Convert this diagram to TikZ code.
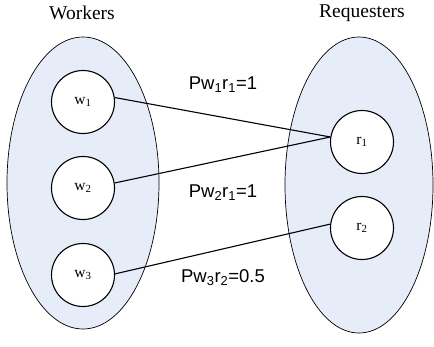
\documentclass[tikz,border=0pt]{standalone}
\usepackage{fontspec}
\setmainfont{Liberation Serif}
\newfontfamily\arialf{Liberation Sans}
\usetikzlibrary{shapes.geometric}
\definecolor{setfill}{RGB}{230,237,248}
\tikzset{
  setell/.style={ellipse, draw=black, fill=setfill, line width=0.7pt, inner sep=0pt},
  agent/.style={circle, draw=black, fill=white, line width=1.1pt, minimum size=63pt, inner sep=0pt, font=\fontsize{15.5}{18}\selectfont},
  title/.style={font=\fontsize{19.5}{22}\selectfont},
  prob/.style={font=\arialf\fontsize{18.5}{21}\selectfont},
  link/.style={line width=1.1pt}
}
\begin{document}
\begin{tikzpicture}[x=1pt,y=-1pt]
\useasboundingbox (0,0) rectangle (434,346);
\node[setell, minimum width=152pt, minimum height=292pt] (W) at (83,183) {};
\node[setell, minimum width=148pt, minimum height=296pt] (R) at (359,185) {};
\node[title] (tw) at (82,13) {Workers};
\node[title] (tr) at (362,13) {Requesters};
\node[agent] (w1) at (83,102) {w\textsubscript{1}};
\node[agent] (w2) at (83,188) {w\textsubscript{2}};
\node[agent] (w3) at (83,275) {w\textsubscript{3}};
\node[agent] (r1) at (362,142) {r\textsubscript{1}};
\node[agent] (r2) at (362,228) {r\textsubscript{2}};
\draw[link] (w1.8.6) -- (r1.171);
\draw[link] (w2.9) -- (r1.171);
\draw[link] (w3.2) -- (r2.173);
\node[prob] (p1) at (223,85) {Pw\textsubscript{1}r\textsubscript{1}=1};
\node[prob] (p2) at (223,193) {Pw\textsubscript{2}r\textsubscript{1}=1};
\node[prob] (p3) at (223,278) {Pw\textsubscript{3}r\textsubscript{2}=0.5};
\end{tikzpicture}
\end{document}
